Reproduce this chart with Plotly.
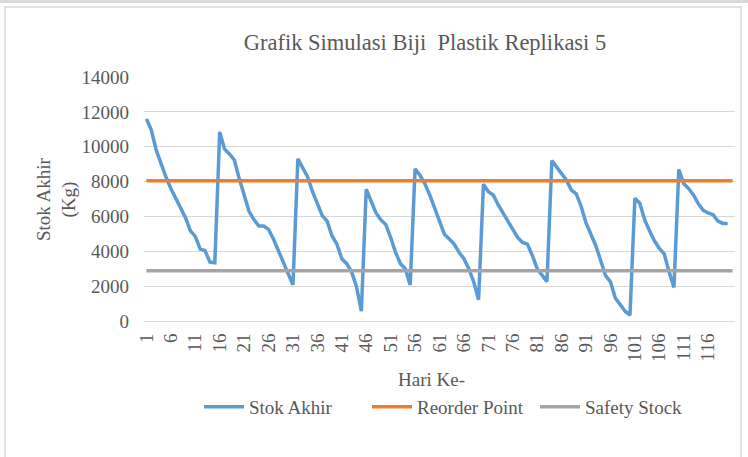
import plotly.graph_objects as go

hari = list(range(1, 122))
label_hari = hari[:116:5]

stok_akhir = [
    11600, 10950, 9800, 8950, 8260, 7600, 7040, 6480, 5920, 5170,
    4850, 4130, 4040, 3380, 3340, 10850, 9860, 9580, 9240, 8170,
    7140, 6290, 5820, 5450, 5450, 5260, 4700, 4040, 3290, 2720,
    2070, 9300, 8730, 8260, 7420, 6670, 6050, 5730, 4880, 4410,
    3570, 3290, 2820, 1970, 560, 7560, 6850, 6200, 5800, 5540,
    4790, 3940, 3290, 3000, 2070, 8730, 8360, 7890, 7230, 6480,
    5630, 4980, 4700, 4410, 3940, 3570, 3000, 2250, 1220, 7850,
    7420, 7230, 6670, 6200, 5730, 5170, 4790, 4510, 4410, 3760,
    3000, 2630, 2250, 9200, 8830, 8450, 8080, 7510, 7290, 6570,
    5630, 4980, 4320, 3470, 2600, 2250, 1320, 940, 560, 340,
    7040, 6760, 5820, 5170, 4600, 4170, 3850, 2820, 1920, 8700,
    7890, 7600, 7230, 6720, 6350, 6200, 6100, 5730, 5600, 5600,
]

reorder_point = [8050] * 121
safety_stock = [2890] * 121

font_serif = "Liberation Serif, Times New Roman, serif"
abu = "#595959"

# ukuran area plot (pixel)
L, R, T, B = 144, 13, 77, 136
W, H = 748, 457
pw, ph = W - L - R, H - T - B

def px_x(x):
    return (x - L) / pw

def px_y(y):
    return (H - B - y) / ph

fig = go.Figure()
fig.add_trace(go.Scatter(
    x=hari[:len(stok_akhir)], y=stok_akhir, name="Stok Akhir",
    mode="lines", line=dict(color="#5b9bd5", width=3.5),
))
fig.add_trace(go.Scatter(
    x=hari, y=reorder_point, name="Reorder Point",
    mode="lines", line=dict(color="#ed7d31", width=3.5),
))
fig.add_trace(go.Scatter(
    x=hari, y=safety_stock, name="Safety Stock",
    mode="lines", line=dict(color="#a5a5a5", width=3.5),
))

fig.update_layout(
    width=W, height=H,
    paper_bgcolor="white",
    plot_bgcolor="white",
    margin=dict(l=L, r=R, t=T, b=B, pad=0),
    font=dict(family=font_serif, color=abu, size=19),
    title=dict(
        text="Grafik Simulasi Biji  Plastik Replikasi 5",
        x=425 / W, xanchor="center", y=1 - 42 / H, yanchor="middle",
        font=dict(size=22.5, color=abu),
    ),
    showlegend=True,
    legend=dict(
        orientation="h", x=px_x(451), xanchor="center",
        y=px_y(407), yanchor="middle",
        font=dict(size=19, color=abu), itemwidth=40,
        entrywidth=113, entrywidthmode="pixels",
        bgcolor="rgba(0,0,0,0)",
    ),
    xaxis=dict(
        range=[0.5, 121.5], tickmode="array", tickvals=label_hari,
        ticktext=[str(h) for h in label_hari], tickangle=-90,
        showgrid=False, zeroline=False, showline=True,
        linecolor="#d9d9d9", linewidth=1, ticks="",
        tickfont=dict(size=19, color=abu), ticklabelstandoff=4,
    ),
    yaxis=dict(
        range=[0, 14000], dtick=2000, tickformat="d",
        showgrid=True, gridcolor="#d9d9d9", gridwidth=1,
        zeroline=False, showline=False, ticks="",
        tickfont=dict(size=19, color=abu), ticklabelstandoff=14,
    ),
    annotations=[
        dict(text="Stok Akhir<br>(Kg)", x=px_x(56), y=0.5, xref="paper", yref="paper",
             xanchor="center", yanchor="middle",
             textangle=-90, showarrow=False, font=dict(size=19, color=abu)),
        dict(text="Hari Ke-", x=px_x(431), y=px_y(379), xref="paper", yref="paper",
             xanchor="center", yanchor="middle",
             showarrow=False, font=dict(size=19, color=abu)),
    ],
    shapes=[
        dict(type="rect", xref="paper", yref="paper",
             x0=px_x(5), x1=px_x(741), y0=px_y(470), y1=px_y(7),
             line=dict(color="#d9d9d9", width=1.5), layer="below"),
        dict(type="line", xref="paper", yref="paper",
             x0=px_x(0), x1=px_x(748), y0=px_y(1.5), y1=px_y(1.5),
             line=dict(color="#d9d9d9", width=3), layer="below"),
    ],
)

fig.write_html("out.html", config={"displayModeBar": False},
               post_script="document.body.style.margin='0';")
